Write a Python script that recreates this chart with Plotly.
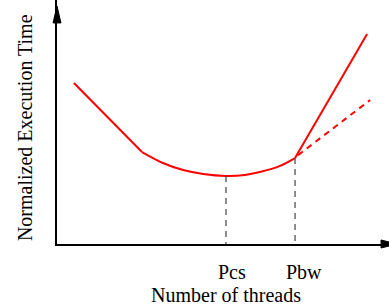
import plotly.graph_objects as go

# Data (abstract units: threads on x 0..10, normalized time on y 0..10)
lin_x = [0.51, 2.56]
lin_y = [6.60, 3.77]
curve_x = [2.56, 3.19, 3.80, 4.40, 5.09, 5.66, 6.11, 6.72, 7.17]
curve_y = [3.77, 3.32, 3.03, 2.87, 2.79, 2.83, 2.95, 3.20, 3.52]
steep_x = [7.17, 9.34]
steep_y = [3.52, 8.61]
mild_x = [7.26, 9.43]
mild_y = [3.64, 5.90]
pcs_x, pcs_y = 5.09, 2.79
pbw_x, pbw_y = 7.17, 3.52
tick_labels = ["Pcs", "Pbw"]

RED = "#ff0000"
FONT = "Liberation Serif, Times New Roman, serif"

fig = go.Figure()
fig.add_trace(go.Scatter(x=lin_x, y=lin_y, mode="lines",
                         line=dict(color=RED, width=2), hoverinfo="skip"))
fig.add_trace(go.Scatter(x=curve_x, y=curve_y, mode="lines",
                         line=dict(color=RED, width=2, shape="spline", smoothing=0.8),
                         hoverinfo="skip"))
fig.add_trace(go.Scatter(x=steep_x, y=steep_y, mode="lines",
                         line=dict(color=RED, width=2), hoverinfo="skip"))
fig.add_trace(go.Scatter(x=mild_x, y=mild_y, mode="lines",
                         line=dict(color=RED, width=2, dash="6px,5px"), hoverinfo="skip"))
# dashed drop lines
for px, py in [(pcs_x, pcs_y), (pbw_x, pbw_y)]:
    fig.add_trace(go.Scatter(x=[px, px], y=[py, 0], mode="lines",
                             line=dict(color="#444444", width=1.2, dash="6px,5px"),
                             hoverinfo="skip"))

fig.update_layout(
    width=389, height=307,
    margin=dict(l=57, r=0, t=0, b=63),
    paper_bgcolor="white", plot_bgcolor="white",
    showlegend=False,
    xaxis=dict(range=[0, 10], showgrid=False, zeroline=False, showticklabels=False,
               ticks="", showline=True, linecolor="black", linewidth=1.5, fixedrange=True),
    yaxis=dict(range=[0, 10], showgrid=False, zeroline=False, showticklabels=False,
               ticks="", showline=True, linecolor="black", linewidth=1.5, fixedrange=True),
    font=dict(family=FONT, size=20, color="black"),
)

# Arrowheads (paper coords)
fig.add_shape(type="path", xref="paper", yref="paper",
              path="M 0 0.975 L -0.012 0.906 L 0.012 0.906 Z",
              fillcolor="black", line=dict(color="black", width=1))
fig.add_shape(type="path", xref="paper", yref="paper",
              path="M 1.024 0 L 0.976 0.0164 L 0.976 -0.0164 Z",
              fillcolor="black", line=dict(color="black", width=1))

# Tick-like labels
for lx, txt, xs in [(pcs_x, tick_labels[0], 6), (pbw_x, tick_labels[1], 9)]:
    fig.add_annotation(x=lx, y=0, xref="x", yref="paper", text=txt, showarrow=False,
                       xanchor="center", yanchor="middle", xshift=xs, yshift=-28,
                       font=dict(family=FONT, size=20))

fig.add_annotation(x=0.509, y=0, xref="paper", yref="paper", text="Number of threads",
                   showarrow=False, xanchor="center", yanchor="middle", yshift=-51,
                   font=dict(family=FONT, size=20))
fig.add_annotation(x=0, y=0.475, xref="paper", yref="paper", text="Normalized Execution Time",
                   showarrow=False, textangle=-90, xanchor="center", yanchor="middle",
                   xshift=-32, font=dict(family=FONT, size=20))

fig.write_html("out.html", config={"displayModeBar": False},
               post_script="document.body.style.margin='0';document.body.style.overflow='hidden';")
